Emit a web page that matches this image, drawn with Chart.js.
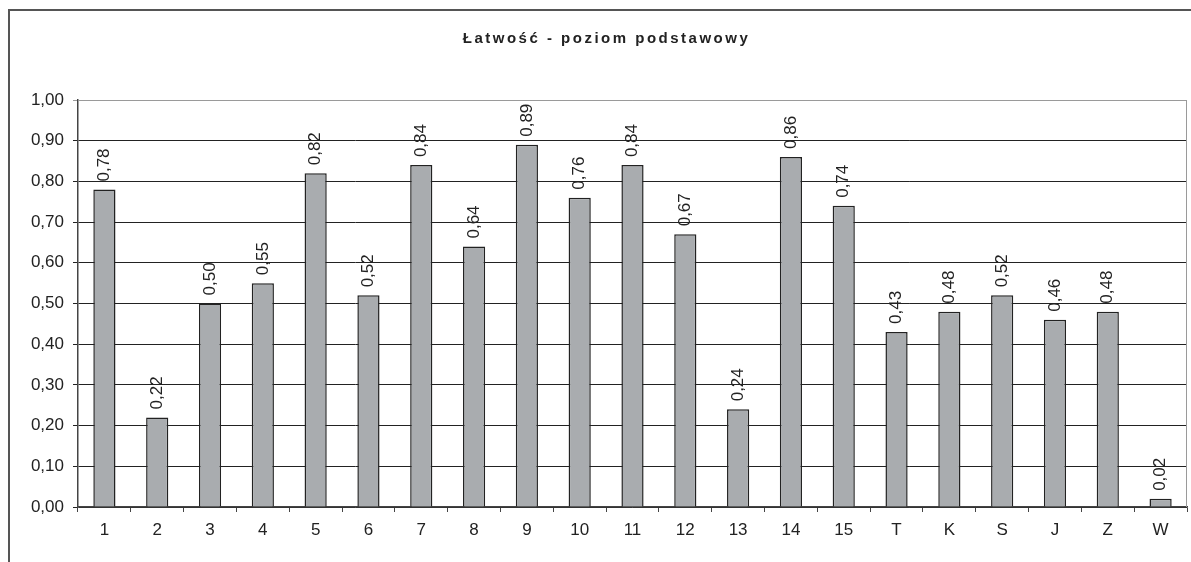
<!DOCTYPE html>
<html>
<head>
<meta charset="utf-8">
<script src="https://cdn.jsdelivr.net/npm/chart.js@4"></script>
<style>
html,body{margin:0;padding:0;background:#fff;}
#wrap{width:1191px;height:562px;position:relative;}
</style>
</head>
<body>
<div id="wrap"><canvas id="c" width="1191" height="562"></canvas></div>
<script>
const titleText = "Łatwość - poziom podstawowy";
const categories = ["1","2","3","4","5","6","7","8","9","10","11","12","13","14","15","T","K","S","J","Z","W"];
const values = [0.78,0.22,0.50,0.55,0.82,0.52,0.84,0.64,0.89,0.76,0.84,0.67,0.24,0.86,0.74,0.43,0.48,0.52,0.46,0.48,0.02];
const yMin = 0, yMax = 1, yStep = 0.1;

const fmt = v => v.toFixed(2).replace('.', ',');
const FAM = '"Liberation Sans", Arial, sans-serif';

const framePlugin = {
  id: 'frame',
  beforeDraw(chart) {
    const ctx = chart.ctx;
    ctx.save();
    ctx.fillStyle = '#fff';
    ctx.fillRect(0, 0, chart.width, chart.height);
    ctx.strokeStyle = '#555';
    ctx.lineWidth = 2;
    ctx.beginPath();
    ctx.moveTo(9, chart.height);
    ctx.lineTo(9, 10);
    ctx.lineTo(chart.width, 10);
    ctx.stroke();
    ctx.restore();
  },
  afterDatasetsDraw(chart) {
    const ctx = chart.ctx;
    const a = chart.chartArea;
    ctx.save();
    ctx.strokeStyle = '#9a9a9a';
    ctx.lineWidth = 1;
    ctx.beginPath();
    ctx.moveTo(a.left, a.top + 0.5);
    ctx.lineTo(a.right - 0.5, a.top + 0.5);
    ctx.lineTo(a.right - 0.5, a.bottom);
    ctx.stroke();
    // title
    ctx.fillStyle = '#222';
    ctx.font = 'bold 15px ' + FAM;
    if ('letterSpacing' in ctx) ctx.letterSpacing = '2.5px';
    ctx.textAlign = 'center';
    ctx.textBaseline = 'middle';
    ctx.fillText(titleText, (a.left + a.right) / 2 - 26, a.top - 61);
    if ('letterSpacing' in ctx) ctx.letterSpacing = '0px';
    // data labels
    const meta = chart.getDatasetMeta(0);
    ctx.font = '17px ' + FAM;
    ctx.fillStyle = '#222';
    ctx.textAlign = 'left';
    ctx.textBaseline = 'middle';
    meta.data.forEach((bar, i) => {
      ctx.save();
      ctx.translate(bar.x, bar.y - 8);
      ctx.rotate(-Math.PI / 2);
      ctx.fillText(fmt(values[i]), 0, 0);
      ctx.restore();
    });
    ctx.restore();
  }
};

new Chart(document.getElementById('c'), {
  type: 'bar',
  data: {
    labels: categories,
    datasets: [{
      data: values,
      backgroundColor: '#a9acaf',
      borderColor: '#222',
      borderWidth: 1.5,
      barPercentage: 0.42,
      categoryPercentage: 1
    }]
  },
  options: {
    responsive: false,
    animation: false,
    events: [],
    layout: { padding: { left: 0, right: 4, top: 100, bottom: 0 } },
    plugins: { legend: { display: false }, title: { display: false }, tooltip: { enabled: false } },
    scales: {
      x: {
        grid: { display: true, drawOnChartArea: false, drawTicks: true, tickLength: 5, color: '#444', offset: true },
        border: { color: '#444', width: 1.5 },
        ticks: { color: '#222', font: { size: 17, family: FAM }, padding: 8, maxRotation: 0, autoSkip: false },
        afterFit(scale) { scale.height = 55; }
      },
      y: {
        min: yMin, max: yMax,
        grid: {
          color: ctx => (ctx.tick && Math.abs(ctx.tick.value - yMax) < 1e-9) ? '#9a9a9a' : '#222',
          lineWidth: 1, tickLength: 5, drawTicks: true
        },
        border: { color: '#444', width: 1.5 },
        ticks: {
          stepSize: yStep, color: '#222', padding: 9,
          font: { size: 17, family: FAM },
          callback: v => fmt(v)
        },
        afterFit(scale) { scale.width = 78; }
      }
    }
  },
  plugins: [framePlugin]
});
</script>
</body>
</html>
